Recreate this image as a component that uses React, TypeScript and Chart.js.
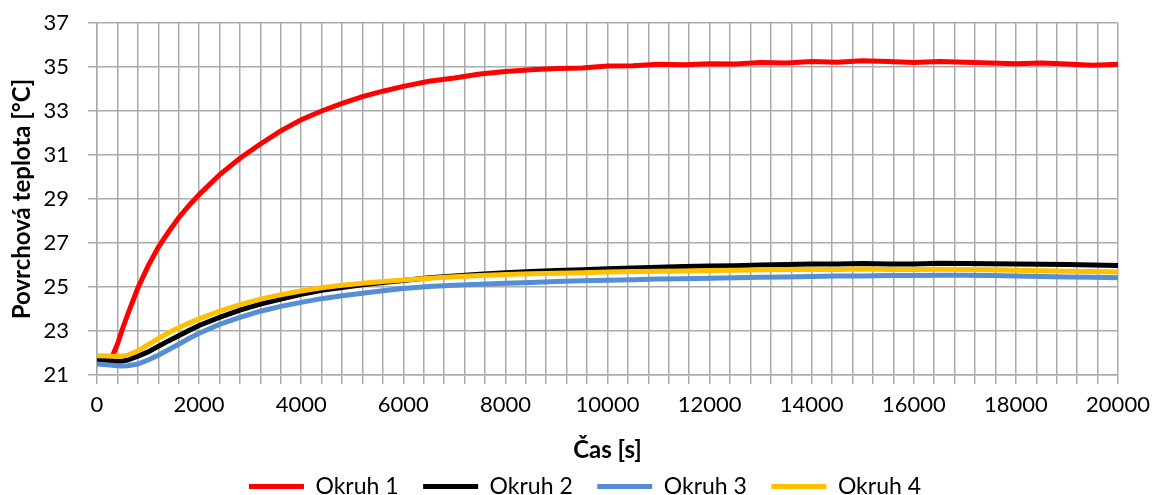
import React, { useEffect, useRef } from 'react';
import { Chart, registerables } from 'chart.js';

Chart.register(...registerables);

// time [s]
const times = [
  0, 200, 300, 400, 500, 600, 800, 1000, 1200, 1400, 1600, 1800,
  2000, 2400, 2800, 3200, 3600, 4000, 4400, 4800, 5200, 5600, 6000,
  6500, 7000, 7500, 8000, 8500, 9000, 9500, 10000, 10500, 11000, 11500, 12000,
  12500, 13000, 13500, 14000, 14500, 15000, 15500, 16000, 16500, 17000, 17500,
  18000, 18500, 19000, 19500, 20000,
];

const okruh1 = [
  21.83, 21.82, 21.85, 22.4, 23.1, 23.75, 24.95, 25.95, 26.8, 27.5, 28.15, 28.7,
  29.2, 30.1, 30.85, 31.5, 32.1, 32.6, 33.0, 33.35, 33.65, 33.9, 34.12,
  34.35, 34.5, 34.68, 34.8, 34.88, 34.93, 34.96, 35.05, 35.06, 35.12, 35.1, 35.15,
  35.14, 35.2, 35.18, 35.25, 35.22, 35.28, 35.25, 35.2, 35.25, 35.22, 35.18,
  35.15, 35.18, 35.14, 35.08, 35.12,
];

const okruh2 = [
  21.7, 21.67, 21.65, 21.63, 21.64, 21.68, 21.85, 22.05, 22.3, 22.55, 22.78, 23.02,
  23.25, 23.62, 23.95, 24.22, 24.45, 24.67, 24.85, 24.98, 25.1, 25.2, 25.3,
  25.42, 25.5, 25.58, 25.65, 25.7, 25.75, 25.78, 25.83, 25.86, 25.9, 25.93, 25.95,
  25.97, 26.0, 26.02, 26.05, 26.04, 26.07, 26.05, 26.05, 26.08, 26.07, 26.06,
  26.05, 26.03, 26.02, 26.0, 25.98,
];

const okruh3 = [
  21.5, 21.46, 21.44, 21.42, 21.41, 21.42, 21.5, 21.68, 21.9, 22.15, 22.4, 22.66,
  22.9, 23.3, 23.62, 23.9, 24.12, 24.3, 24.47, 24.6, 24.72, 24.83, 24.93,
  25.02, 25.08, 25.13, 25.17, 25.21, 25.25, 25.28, 25.31, 25.33, 25.36, 25.38, 25.4,
  25.42, 25.44, 25.46, 25.48, 25.5, 25.5, 25.52, 25.52, 25.53, 25.53, 25.52,
  25.5, 25.48, 25.46, 25.44, 25.42,
];

const okruh4 = [
  21.88, 21.86, 21.85, 21.84, 21.86, 21.9, 22.1, 22.38, 22.65, 22.92, 23.15, 23.36,
  23.55, 23.9, 24.2, 24.45, 24.65, 24.82, 24.97, 25.08, 25.17, 25.25, 25.32,
  25.4, 25.47, 25.52, 25.57, 25.6, 25.63, 25.65, 25.68, 25.7, 25.72, 25.73, 25.75,
  25.76, 25.78, 25.79, 25.8, 25.8, 25.82, 25.8, 25.8, 25.81, 25.8, 25.78,
  25.76, 25.74, 25.72, 25.7, 25.68,
];

const seriesNames = ['Okruh 1', 'Okruh 2', 'Okruh 3', 'Okruh 4'];
const seriesValues = [okruh1, okruh2, okruh3, okruh4];
const seriesColors = ['#FF0000', '#000000', '#558ED5', '#FFC000'];

const yTicks = [21, 23, 25, 27, 29, 31, 33, 35, 37];
const xLabelTicks = [0, 2000, 4000, 6000, 8000, 10000, 12000, 14000, 16000, 18000, 20000];

const GRID = '#ABABAB';
const FONT = 'Lato, "Open Sans", sans-serif';

const legendShift = {
  id: 'legendShift',
  afterLayout(chart: any) {
    const lg = chart.legend;
    if (lg) {
      lg.left += 26;
      lg.right += 26;
    }
  },
};

export default function App() {
  const canvasRef = useRef<HTMLCanvasElement | null>(null);

  useEffect(() => {
    document.body.style.margin = '0';
    const canvas = canvasRef.current;
    if (!canvas) return;

    const datasets = seriesNames.map((name, i) => ({
      label: name,
      data: times.map((t, k) => ({ x: t, y: seriesValues[i][k] })),
      borderColor: seriesColors[i],
      backgroundColor: seriesColors[i],
      borderWidth: 5,
      pointRadius: 0,
      tension: 0,
      order: seriesNames.length - i,
    }));

    const chart = new Chart(canvas, {
      type: 'line',
      data: { datasets },
      plugins: [legendShift],
      options: {
        animation: false,
        responsive: false,
        maintainAspectRatio: false,
        layout: { padding: { left: 0, right: 34, top: 23, bottom: 0 } },
        plugins: {
          tooltip: { enabled: false },
          legend: {
            position: 'bottom',
            labels: {
              font: { family: FONT, size: 23 },
              color: '#000',
              boxWidth: 55,
              boxHeight: 5,
              padding: 24.5,
              generateLabels: (ch: any) =>
                ch.data.datasets.map((ds: any, i: number) => ({
                  text: ds.label,
                  fillStyle: ds.borderColor,
                  strokeStyle: ds.borderColor,
                  lineWidth: 0,
                  fontColor: '#000',
                  hidden: false,
                  datasetIndex: i,
                })),
            },
          },
        },
        scales: {
          x: {
            type: 'linear',
            min: 0,
            max: 20000,
            ticks: {
              stepSize: 400,
              autoSkip: false,
              maxRotation: 0,
              padding: 8,
              color: '#000',
              font: { family: FONT, size: 22 },
              callback: (v: any) => (xLabelTicks.includes(Number(v)) ? String(v) : ''),
            },
            grid: { color: GRID, lineWidth: 1.5, tickLength: 9, drawTicks: true },
            border: { color: GRID, width: 1.5 },
            title: {
              display: true,
              text: 'Čas [s]',
              color: '#000',
              font: { family: FONT, size: 24, weight: 'bold' },
              padding: { top: 0, bottom: -14 },
            },
            afterFit: (scale: any) => {
              scale.height = 75.5;
              scale.paddingLeft = 10;
              scale.paddingRight = 30;
            },
          },
          y: {
            type: 'linear',
            min: 21,
            max: 37,
            afterBuildTicks: (scale: any) => {
              scale.ticks = yTicks.map((v) => ({ value: v }));
            },
            ticks: {
              padding: 19,
              color: '#000',
              font: { family: FONT, size: 22 },
            },
            grid: { color: GRID, lineWidth: 1.5, tickLength: 9, drawTicks: true },
            border: { color: GRID, width: 1.5 },
            title: {
              display: true,
              text: 'Povrchová teplota [°C]',
              color: '#000',
              font: { family: FONT, size: 24, weight: 'bold' },
              padding: { top: 7.6, bottom: 0 },
            },
            afterFit: (scale: any) => {
              scale.width = 97;
              scale.paddingTop = 10;
              scale.paddingBottom = 10;
            },
          },
        },
      },
    });

    return () => chart.destroy();
  }, []);

  return (
    <div style={{ width: 1152, height: 495, overflow: 'hidden', position: 'relative' }}>
      <canvas ref={canvasRef} width={1152} height={508} style={{ display: 'block' }} />
    </div>
  );
}
